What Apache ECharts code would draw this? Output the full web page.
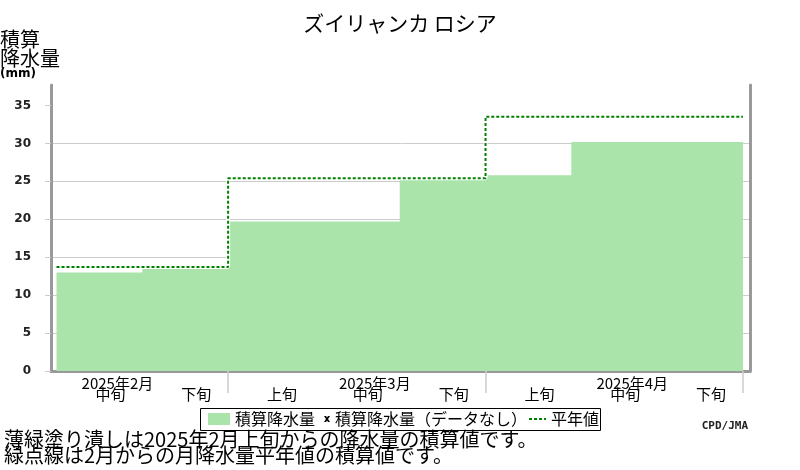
<!DOCTYPE html>
<html>
<head>
<meta charset="utf-8">
<script src="https://cdn.jsdelivr.net/npm/echarts@6/dist/echarts.min.js"></script>
<style>
html,body{margin:0;padding:0;background:#fff;}
#chart{width:800px;height:470px;}
</style>
</head>
<body>
<div id="chart"></div>
<script>
// ---- data ----
const dekadLabels = ['中旬','下旬','上旬','中旬','下旬','上旬','中旬','下旬'];
const monthLabels = ['2025年2月','2025年3月','2025年4月'];
const monthDekadsShown = [2, 3, 3];
const accumulated = [13.0, 13.5, 19.7, 19.7, 25.3, 25.8, 30.2, 30.2];
const normalMonthly = [13.7, 25.4, 33.5];
const yTicks = [0, 5, 10, 15, 20, 25, 30, 35];
const titleText = 'ズイリャンカ ロシア';
const noteLines = ['薄緑塗り潰しは2025年2月上旬からの降水量の積算値です。', '緑点線は2月からの月降水量平年値の積算値です。'];

// ---- derived ----
const nD = accumulated.length;
const accData = accumulated.map((v, i) => [i, v]);
accData.push([nD, accumulated[nD - 1]]);
const monthEnds = [];
monthDekadsShown.reduce((s, c) => { monthEnds.push(s + c); return s + c; }, 0);
const monthStarts = monthEnds.map((e, i) => e - monthDekadsShown[i]);
const monthCenters = monthEnds.map(e => e - 1.5);
const normalData = normalMonthly.map((v, i) => [monthStarts[i], v]);
normalData.push([nD, normalMonthly[normalMonthly.length - 1]]);
const dekadCenters = dekadLabels.map((_, i) => i + 0.5);

const CJK = "'Noto Sans CJK JP', sans-serif";
const xMin = -0.064, xMax = 8.082, yMax = 37.7;

const chart = echarts.init(document.getElementById('chart'), null, {renderer: 'canvas'});
chart.setOption({
  animation: false,
  backgroundColor: '#fff',
  textStyle: {fontFamily: CJK},
  title: [
    {text: titleText, left: 'center', top: 13, padding: 0,
     textStyle: {fontFamily: CJK, fontSize: 21, fontWeight: 'normal', color: '#000'}},
    {text: '{a|積算}\n{a|降水量}\n{b|(mm)}', left: 0, top: 30, padding: 0,
     textStyle: {fontWeight: 'normal', rich: {
       a: {fontFamily: CJK, fontSize: 20, fontWeight: 'normal', lineHeight: 19, color: '#000'},
       b: {fontFamily: 'DejaVu Sans', fontSize: 12, fontWeight: 'bold', lineHeight: 11, color: '#000'}
     }}},
    {text: noteLines.join('\n'), left: 4, top: 431, padding: 0,
     textStyle: {fontFamily: CJK, fontSize: 20, lineHeight: 16, fontWeight: 'normal', color: '#000'}},
    {text: 'CPD/JMA', right: 52, top: 421, padding: 0,
     textStyle: {fontFamily: "'DejaVu Sans Mono', monospace", fontSize: 11, fontWeight: 'bold', color: '#222'}}
  ],
  legend: [
    {left: 208, top: 411, padding: 0, itemWidth: 22, itemHeight: 12, selectedMode: false,
     data: [{name: '積算降水量', icon: 'rect', itemStyle: {color: '#abe4ab', borderWidth: 0}}],
     textStyle: {fontFamily: CJK, fontSize: 16, lineHeight: 16, color: '#000'}},
    {left: 324, top: 411, padding: 0, itemWidth: 6, itemHeight: 7, selectedMode: false,
     data: [{name: '積算降水量（データなし）',
             icon: 'path://M0,0h2l1,1.5l1,-1.5h2l-2,3l2,3h-2l-1,-1.5l-1,1.5h-2l2,-3z',
             itemStyle: {color: '#000', borderWidth: 0}}],
     textStyle: {fontFamily: CJK, fontSize: 16, lineHeight: 16, color: '#000'}},
    {left: 529, top: 411, padding: 0, itemWidth: 17, itemHeight: 2, selectedMode: false,
     data: [{name: '平年値',
             icon: 'path://M0,0h3v2h-3z M5,0h3v2h-3z M10,0h3v2h-3z M15,0h2v2h-2z',
             itemStyle: {color: '#008000', borderWidth: 0}}],
     textStyle: {fontFamily: CJK, fontSize: 16, lineHeight: 16, color: '#000'}}
  ],
  graphic: [
    {type: 'rect', shape: {x: 200.5, y: 408.5, width: 400, height: 22},
     style: {fill: 'none', stroke: '#000', lineWidth: 1}, silent: true}
  ],
  grid: {left: 51, right: 50, top: 85, bottom: 99, containLabel: false},
  xAxis: [
    {type: 'value', min: xMin, max: xMax, position: 'bottom',
     axisLine: {show: true, onZero: false, lineStyle: {color: '#999', width: 3}},
     axisTick: {show: true, customValues: monthEnds, length: 22, lineStyle: {color: '#ccc', width: 1.5}},
     axisLabel: {show: true, customValues: dekadCenters, margin: 16, padding: [0, 0, 0, 22],
       showMinLabel: true, showMaxLabel: true,
       formatter: v => dekadLabels[Math.floor(v)],
       fontFamily: CJK, fontSize: 15, color: '#000'},
     splitLine: {show: false}},
    {type: 'value', min: xMin, max: xMax, position: 'bottom', offset: 0,
     axisLine: {show: false, onZero: false}, axisTick: {show: false},
     axisLabel: {show: true, customValues: monthCenters, margin: 5, padding: [0, 0, 0, 36],
       showMinLabel: true, showMaxLabel: true,
       formatter: v => monthLabels[monthCenters.indexOf(v)],
       fontFamily: CJK, fontSize: 15, color: '#000'},
     splitLine: {show: false}}
  ],
  yAxis: [
    {type: 'value', min: 0, max: yMax, interval: 5, position: 'left',
     axisLine: {show: true, onZero: false, lineStyle: {color: '#999', width: 3}},
     axisTick: {show: true, customValues: yTicks, length: 6, lineStyle: {color: '#ccc', width: 1}},
     axisLabel: {customValues: yTicks, margin: 20, fontFamily: 'DejaVu Sans', fontSize: 12, fontWeight: 'bold', color: '#222'},
     splitLine: {show: true, showMaxLine: false, lineStyle: {color: '#ccc', width: 1}}},
    {type: 'value', min: 0, max: yMax, position: 'right',
     axisLine: {show: true, onZero: false, lineStyle: {color: '#999', width: 3}},
     axisTick: {show: false}, axisLabel: {show: false}, splitLine: {show: false}}
  ],
  series: [
    {name: '積算降水量', type: 'line', step: 'end', data: accData, symbol: 'none',
     color: '#abe4ab', lineStyle: {width: 0, color: '#abe4ab'},
     areaStyle: {color: '#abe4ab', opacity: 1}, z: 2, silent: true},
    {name: 'normal-backing', type: 'line', step: 'end', data: normalData, symbol: 'none',
     lineStyle: {color: '#fff', width: 4}, z: 3, silent: true},
    {name: '平年値', type: 'line', step: 'end', data: normalData, symbol: 'none',
     color: '#008000', lineStyle: {color: '#008000', width: 2, type: [3, 2]}, z: 4, silent: true},
    {name: '積算降水量（データなし）', type: 'line', data: [], color: '#000', symbol: 'none'}
  ]
});
</script>
</body>
</html>
